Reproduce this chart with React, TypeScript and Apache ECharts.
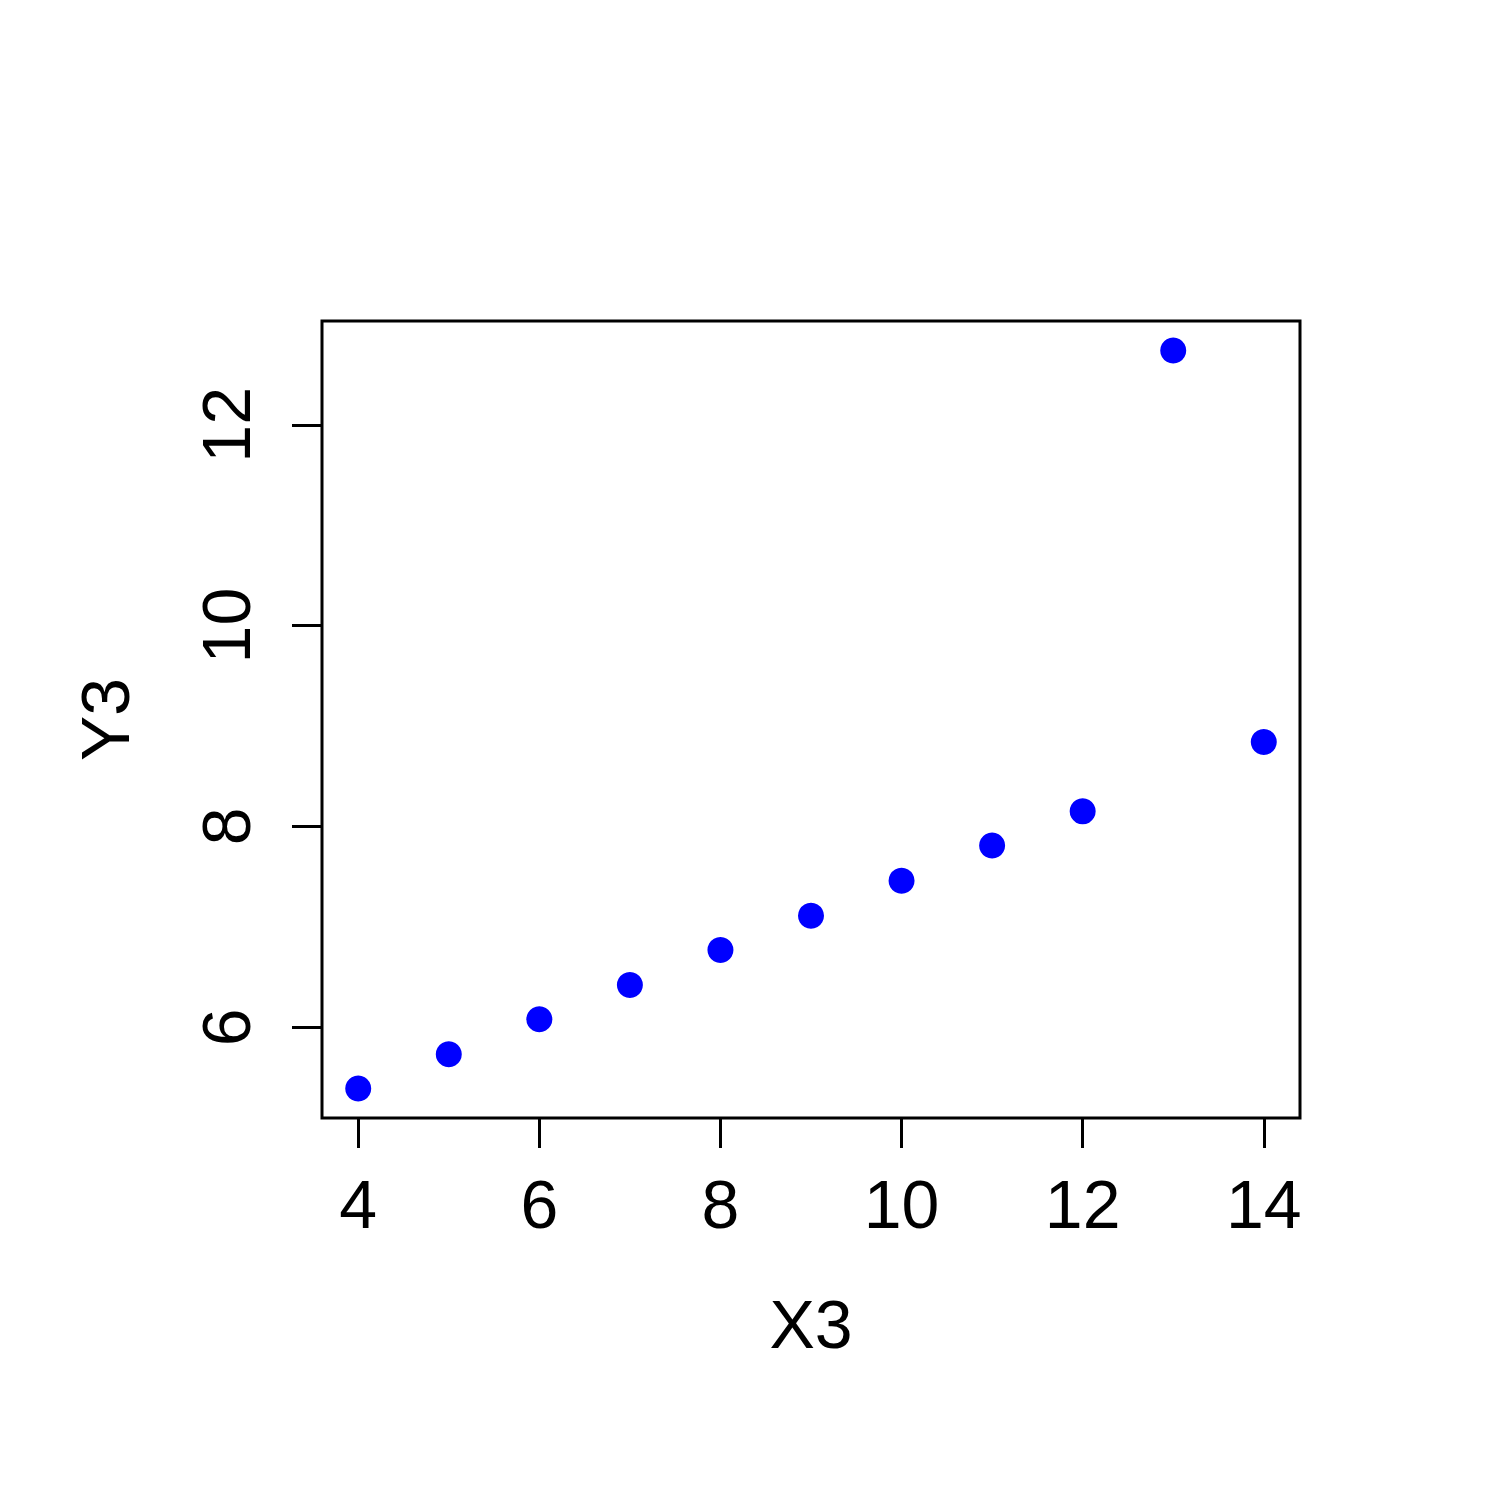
import React, { useEffect, useRef } from "react";
import * as echarts from "echarts";

const xValues = [10, 8, 13, 9, 11, 14, 6, 4, 12, 7, 5];
const yValues = [7.46, 6.77, 12.74, 7.11, 7.81, 8.84, 6.08, 5.39, 8.15, 6.42, 5.73];
const xTicks = [4, 6, 8, 10, 12, 14];
const yTicks = [6, 8, 10, 12];
const xTitle = "X3";
const yTitle = "Y3";

export default function App() {
  const ref = useRef<HTMLDivElement>(null);
  useEffect(() => {
    if (!ref.current) return;
    const chart = echarts.init(ref.current, null, { renderer: "svg" });
    const xMin = Math.min(...xValues), xMax = Math.max(...xValues);
    const yMin = Math.min(...yValues), yMax = Math.max(...yValues);
    const xPad = (xMax - xMin) * 0.04;
    const yPad = (yMax - yMin) * 0.04;
    const font = "'Liberation Sans', Arial, Helvetica, sans-serif";
    chart.setOption({
      animation: false,
      backgroundColor: "#ffffff",
      grid: {
        left: 322,
        top: 321,
        right: 200,
        bottom: 382,
        show: true,
        borderColor: "#000",
        borderWidth: 3,
        backgroundColor: "transparent",
      },
      xAxis: {
        type: "value",
        min: xMin - xPad,
        max: xMax + xPad,
        name: xTitle,
        nameLocation: "middle",
        nameGap: 172,
        nameTextStyle: { fontSize: 68, color: "#000", fontFamily: font },
        axisLine: { show: false },
        splitLine: { show: false },
        axisTick: {
          show: true,
          inside: false,
          length: 30,
          customValues: xTicks,
          lineStyle: { color: "#000", width: 3 },
        },
        axisLabel: {
          customValues: xTicks,
          fontSize: 68,
          color: "#000",
          fontFamily: font,
          margin: 52,
        },
      },
      yAxis: {
        type: "value",
        min: yMin - yPad,
        max: yMax + yPad,
        name: yTitle,
        nameLocation: "middle",
        nameGap: 183,
        nameRotate: 90,
        nameTextStyle: { fontSize: 68, color: "#000", fontFamily: font },
        axisLine: { show: false },
        splitLine: { show: false },
        axisTick: {
          show: true,
          inside: false,
          length: 30,
          customValues: yTicks,
          lineStyle: { color: "#000", width: 3 },
        },
        axisLabel: {
          customValues: yTicks,
          fontSize: 68,
          color: "#000",
          fontFamily: font,
          rotate: 90,
          margin: 62,
        },
      },
      series: [
        {
          type: "scatter",
          data: xValues.map((x, i) => [x, yValues[i]]),
          symbol: "circle",
          symbolSize: 26,
          itemStyle: { color: "#0000ff", opacity: 1 },
        },
      ],
    });
    return () => chart.dispose();
  }, []);
  return (
    <div
      ref={ref}
      style={{ position: "absolute", left: 0, top: 0, width: 1500, height: 1500, background: "#fff" }}
    />
  );
}
